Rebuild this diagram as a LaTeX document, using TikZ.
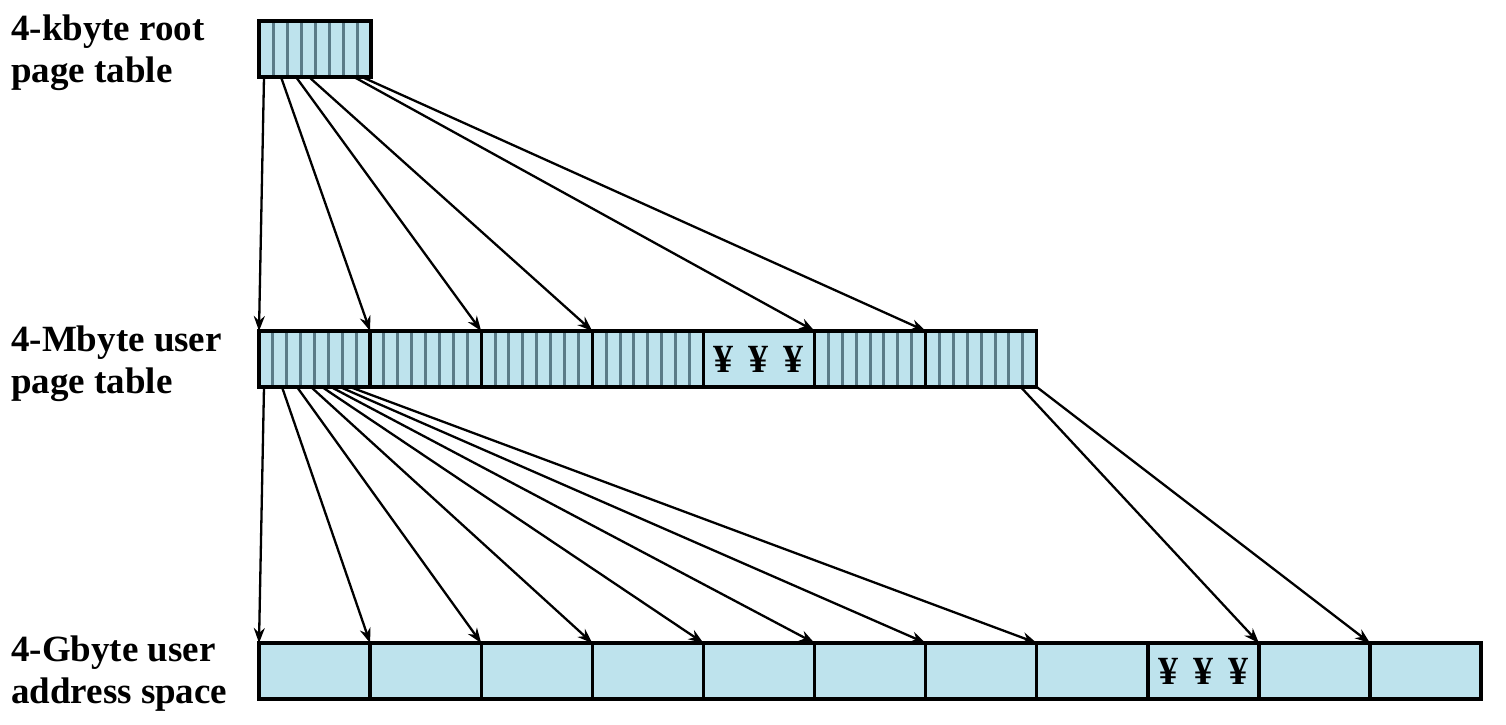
\documentclass[tikz,border=0pt]{standalone}
\usepackage{fontspec}
\setmainfont{Liberation Serif}
\usetikzlibrary{calc,arrows.meta}
\definecolor{cellblue}{HTML}{BEE3ED}
\definecolor{stripegray}{HTML}{5A7B88}
\tikzset{
  cell/.style={draw=black, line width=3.4pt, fill=cellblue, minimum width=111.1pt, minimum height=56pt,
    inner sep=0pt, outer sep=0pt, anchor=north west},
  striped/.style={path picture={
    \foreach \i in {1,...,7}{
      \draw[stripegray, line width=3pt]
        ($(path picture bounding box.south west)!\i/8!(path picture bounding box.south east)$) --
        ($(path picture bounding box.north west)!\i/8!(path picture bounding box.north east)$);
    }}},
  lab/.style={font=\fontsize{37}{42}\selectfont\bfseries, align=left, anchor=north west, inner sep=0pt},
  yen/.style={font=\fontsize{40}{42}\selectfont\bfseries},
  arr/.style={line width=2.3pt, -{Stealth[length=15pt,width=11pt]}}
}
\begin{document}
\begin{tikzpicture}[x=1pt,y=-1pt]
\useasboundingbox (0,0) rectangle (1506,724);
% labels
\node[lab] (l1) at (11,15) {4-kbyte root\\page table};
\node[lab] (l2) at (11,326) {4-Mbyte user\\page table};
\node[lab] (l3) at (11,636) {4-Gbyte user\\address space};
% root table
\node[cell, striped, minimum width=112pt] (root) at (259,21) {};
% middle row
\foreach \k/\x in {1/259,2/370.1,3/481.2,4/592.3,5/703.4,6/814.5,7/925.6}{
  \ifnum\k=5
    \node[cell] (m\k) at (\x,331) {};
  \else
    \node[cell, striped] (m\k) at (\x,331) {};
  \fi
}
\node[yen] (my) at (m5.center) {¥\hspace{15pt}¥\hspace{15pt}¥};
% bottom row
\foreach \k/\x in {1/259,2/370.1,3/481.2,4/592.3,5/703.4,6/814.5,7/925.6,8/1036.7,9/1147.8,10/1258.9,11/1370}{
  \node[cell] (b\k) at (\x,643) {};
}
\node[yen] (by) at (b9.center) {¥\hspace{15pt}¥\hspace{15pt}¥};
% start coordinates
\foreach \i/\d in {1/5,2/22,3/37,4/50,5/95,6/103}{
  \coordinate (r\i) at ($(root.south west)+(\d,0)$);
}
\foreach \i/\d in {1/5,2/23,3/38,4/52,5/63,6/72,7/81,8/91}{
  \coordinate (s\i) at ($(m1.south west)+(\d,0)$);
}
\coordinate (t1) at ($(m7.south east)+(-16,0)$);
\coordinate (t2) at (m7.south east);
% root -> middle
\draw[arr] (r1) -- (m1.north west);
\draw[arr] (r2) -- (m2.north west);
\draw[arr] (r3) -- (m3.north west);
\draw[arr] (r4) -- (m4.north west);
\draw[arr] (r5) -- (m6.north west);
\draw[arr] (r6) -- (m7.north west);
% middle -> bottom
\foreach \i in {1,...,8}{
  \draw[arr] (s\i) -- (b\i.north west);
}
\draw[arr] (t1) -- (b10.north west);
\draw[arr] (t2) -- (b11.north west);
\end{tikzpicture}
\end{document}
